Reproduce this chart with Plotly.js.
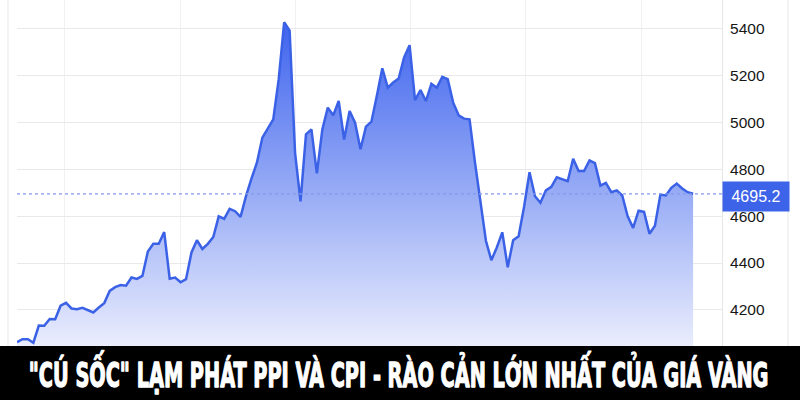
<!DOCTYPE html>
<html>
<head>
<meta charset="utf-8">
<script src="https://cdn.plot.ly/plotly-3.0.1.min.js"></script>
<style>
  html, body { margin: 0; padding: 0; background: #ffffff; }
  #chart { width: 800px; height: 400px; }
</style>
</head>
<body>
<div id="chart"></div>
<script>
// ---- Data ----
const prices = [
  4062, 4075, 4075, 4060, 4133, 4132, 4161, 4160, 4218, 4230,
  4206, 4203, 4209, 4200, 4189, 4210, 4229, 4281, 4297, 4306,
  4303, 4338, 4332, 4345, 4449, 4482, 4482, 4532, 4333, 4338,
  4318, 4331, 4445, 4497, 4460, 4482, 4511, 4599, 4588, 4631,
  4621, 4597, 4685, 4760, 4828, 4935, 4977, 5013, 5184, 5427,
  5391, 4870, 4663, 4949, 4970, 4782, 4970, 5063, 5030, 5091,
  4927, 5048, 4999, 4885, 4982, 5003, 5113, 5231, 5148, 5170,
  5187, 5277, 5329, 5095, 5138, 5091, 5165, 5148, 5194, 5184,
  5084, 5030, 5016, 5013, 4828, 4671, 4495, 4412, 4466, 4531,
  4382, 4497, 4514, 4640, 4787, 4685, 4657, 4710, 4725, 4766,
  4756, 4749, 4845, 4792, 4792, 4838, 4826, 4730, 4742, 4702,
  4710, 4688, 4599, 4550, 4623, 4618, 4525, 4559, 4692, 4688,
  4721, 4739, 4718, 4702, 4695.2
];
const sessions = prices.map((_, i) => i);
const lastPrice = prices[prices.length - 1];
const yTickValues = [4200, 4400, 4600, 4800, 5000, 5200, 5400];
const yTickLabels = ["4200", "4400", "4600", "4800", "5000", "5200", "5400"];
const bannerText = '"CÚ SỐC" LẠM PHÁT PPI VÀ CPI - RÀO CẢN LỚN NHẤT CỦA GIÁ VÀNG';

// ---- Chart ----
const trace = {
  x: sessions,
  y: prices,
  type: 'scatter',
  mode: 'lines',
  line: { color: '#3b62e6', width: 2.5 },
  fill: 'tozeroy',
  fillgradient: {
    type: 'vertical',
    start: 4046,
    stop: 5430,
    colorscale: [[0, '#eaedfd'], [0.5, '#93a8f5'], [1, '#3f64ee']]
  },
  hoverinfo: 'skip'
};

const layout = {
  width: 800,
  height: 400,
  margin: { l: 17, r: 78, t: 0, b: 54 },
  paper_bgcolor: '#ffffff',
  plot_bgcolor: '#ffffff',
  showlegend: false,
  xaxis: {
    range: [0, 129.3],
    tickmode: 'linear',
    tick0: 8.75,
    dtick: 21.15,
    showticklabels: false,
    ticks: '',
    showgrid: true,
    gridcolor: '#f1f1f3',
    gridwidth: 1,
    zeroline: false,
    showline: false
  },
  yaxis: {
    side: 'right',
    range: [4046, 5522],
    tickmode: 'array',
    tickvals: yTickValues,
    ticktext: yTickLabels,
    ticks: '',
    ticklabelstandoff: 4,
    tickfont: { family: 'Liberation Sans, Arial, sans-serif', size: 15.5, color: '#161616' },
    showgrid: true,
    gridcolor: '#e9e9eb',
    gridwidth: 1,
    zeroline: false,
    showline: true,
    linecolor: '#e6e6e8',
    linewidth: 1
  },
  shapes: [
    { type: 'line', xref: 'paper', yref: 'y', x0: 0, x1: 1, y0: lastPrice, y1: lastPrice,
      line: { color: '#8499ea', width: 1.2, dash: 'dot' }, layer: 'above' },
    { type: 'line', xref: 'paper', yref: 'paper', x0: -0.0128, x1: -0.0128, y0: 0, y1: 1,
      line: { color: '#e8e8ea', width: 1 } },
    { type: 'line', xref: 'paper', yref: 'paper', x0: 1.0936, x1: 1.0936, y0: 0, y1: 1,
      line: { color: '#e8e8ea', width: 1 } },
    { type: 'rect', xref: 'paper', yref: 'paper', x0: -0.03, x1: 1.12, y0: -0.16, y1: 0,
      fillcolor: '#000000', line: { width: 0 }, layer: 'above' }
  ],
  annotations: [
    { xref: 'paper', yref: 'y', x: 1.0, y: lastPrice, xanchor: 'left', yanchor: 'middle',
      yshift: -2.5, text: lastPrice.toFixed(1), showarrow: false,
      bgcolor: '#3d63e8', width: 62, height: 25, borderpad: 2,
      font: { family: 'Liberation Sans, Arial, sans-serif', size: 16, color: '#ffffff' } },
    { xref: 'paper', yref: 'paper', x: 0.5406, y: -0.078, xanchor: 'center', yanchor: 'middle',
      text: bannerText, showarrow: false,
      font: { family: 'DejaVu Sans Condensed, DejaVu Sans, sans-serif', size: 33, color: '#ffffff', weight: 'bold' } }
  ]
};

Plotly.newPlot('chart', [trace], layout, { staticPlot: true, displayModeBar: false }).then(gd => {
  const texts = gd.querySelectorAll('text.annotation-text');
  texts.forEach(t => {
    if (t.textContent.indexOf('LẠM PHÁT') >= 0) {
      const bb = t.getBBox();
      const sx = 740 / bb.width;
      const cx = bb.x + bb.width / 2;
      const prev = t.getAttribute('transform') || '';
      t.setAttribute('transform', prev + ` translate(${cx},0) scale(${sx},1) translate(${-cx},0)`);
      t.style.stroke = '#ffffff';
      t.style.strokeWidth = '1.3px';
      t.style.strokeLinejoin = 'round';
    }
  });
});
</script>
</body>
</html>
